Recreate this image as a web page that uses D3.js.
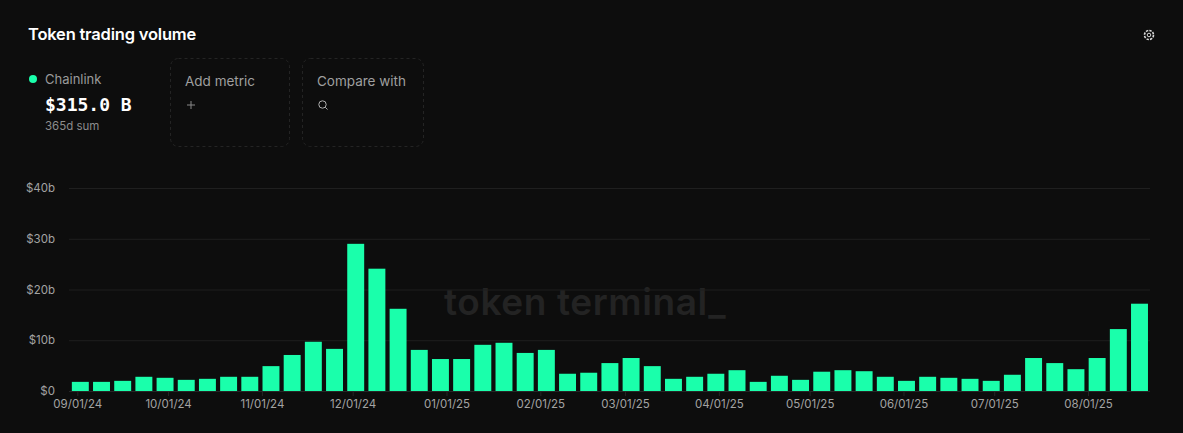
<!DOCTYPE html>
<html>
<head>
<meta charset="utf-8">
<script src="https://cdn.jsdelivr.net/npm/d3@7"></script>
<style>
    html, body { margin: 0; padding: 0; background: #0d0d0d; overflow: hidden; }
    text { font-family: Inter, "Noto Sans", sans-serif; }
</style>
</head>
<body>
<svg id="viz_svg01" width="1183" height="433"></svg>
<script>
// Weekly buckets, each one labelled by its Monday.
const weeks = [
    "2024-09-02", "2024-09-09", "2024-09-16", "2024-09-23", "2024-09-30", "2024-10-07", "2024-10-14",
    "2024-10-21", "2024-10-28", "2024-11-04", "2024-11-11", "2024-11-18", "2024-11-25", "2024-12-02",
    "2024-12-09", "2024-12-16", "2024-12-23", "2024-12-30", "2025-01-06", "2025-01-13", "2025-01-20",
    "2025-01-27", "2025-02-03", "2025-02-10", "2025-02-17", "2025-02-24", "2025-03-03", "2025-03-10",
    "2025-03-17", "2025-03-24", "2025-03-31", "2025-04-07", "2025-04-14", "2025-04-21", "2025-04-28",
    "2025-05-05", "2025-05-12", "2025-05-19", "2025-05-26", "2025-06-02", "2025-06-09", "2025-06-16",
    "2025-06-23", "2025-06-30", "2025-07-07", "2025-07-14", "2025-07-21", "2025-07-28", "2025-08-04",
    "2025-08-11", "2025-08-18"
];
// Volume in $ billions.
const volume = [
    1.8, 1.8, 2.0, 2.8, 2.6, 2.2, 2.4, 2.8, 2.8, 4.9, 7.1, 9.7, 8.3, 29.0,
    24.1, 16.2, 8.1, 6.3, 6.3, 9.1, 9.5, 7.5, 8.1, 3.4, 3.6, 5.5, 6.5, 4.9,
    2.4, 2.8, 3.4, 4.1, 1.8, 3.0, 2.2, 3.8, 4.1, 3.9, 2.8, 2.0, 2.8, 2.6,
    2.4, 2.0, 3.2, 6.5, 5.5, 4.3, 6.5, 12.2, 17.2
];
const xTicks = [
    "2024-09-01", "2024-10-01", "2024-11-01", "2024-12-01", "2025-01-01", "2025-02-01",
    "2025-03-01", "2025-04-01", "2025-05-01", "2025-06-01", "2025-07-01", "2025-08-01"
];
const yTicks = [0, 10, 20, 30, 40];

const width = 1183, height = 433;
const plotLeft = 69, plotRight = 1150, plotTop = 188, plotBottom = 391;
const green = "#1affab";

const parseDay = d3.utcParse("%Y-%m-%d");
const svg = d3.select("#viz_svg01");

svg.append("rect")
    .attr("width", width)
    .attr("height", height)
    .attr("fill", "#0d0d0d");

// The x scale is pinned on the first tick and the last bar's centre.
const x = d3.scaleUtc()
    .domain([parseDay("2024-09-01"), parseDay("2025-08-18")])
    .range([77.3, 1139.5]);

const y = d3.scaleLinear()
    .domain([0, 40])
    .range([plotBottom, plotTop]);

const barWidth = (x(parseDay(weeks[1])) - x(parseDay(weeks[0]))) * 0.8;

// Watermark sits under the gridlines and bars.
svg.append("text")
    .attr("x", 444)
    .attr("y", 315)
    .attr("font-size", 37)
    .attr("font-weight", 600)
    .attr("letter-spacing", 0.6)
    .attr("fill", "#232323")
    .text("token terminal_");

// Gridlines and y labels
const yAxis = d3.axisLeft(y)
    .tickValues(yTicks)
    .tickSize(plotLeft - plotRight)
    .tickPadding(14)
    .tickFormat(d => `$${d}${d === 0 ? "" : "b"}`);

const gY = svg.append("g")
    .attr("transform", `translate(${plotLeft},0)`)
    .call(yAxis);
gY.select(".domain").remove();
gY.selectAll("line").attr("stroke", "#1f1f1f");
gY.selectAll("text")
    .attr("font-size", 11.5)
    .attr("fill", "#a3a3a3");

// Dates with small tick marks
const xAxis = d3.axisBottom(x)
    .tickValues(xTicks.map(parseDay))
    .tickSize(5)
    .tickPadding(4)
    .tickFormat(d3.utcFormat("%m/%d/%y"));

const gX = svg.append("g")
    .attr("transform", `translate(0,${plotBottom})`)
    .call(xAxis);
gX.select(".domain")
    .attr("stroke", "#262626")
    .attr("d", `M${plotLeft},0.5H${plotRight}`);
gX.selectAll("line").attr("stroke", "#262626");
gX.selectAll("text")
    .attr("font-size", 11.5)
    .attr("fill", "#a3a3a3");

// Bars
svg.append("g")
    .selectAll("rect")
    .data(weeks)
    .join("rect")
    .attr("x", d => x(parseDay(d)) - barWidth / 2)
    .attr("y", (d, i) => y(volume[i]))
    .attr("width", barWidth)
    .attr("height", (d, i) => y(0) - y(volume[i]))
    .attr("fill", green);

// Header
svg.append("text")
    .attr("x", 28)
    .attr("y", 40)
    .attr("font-size", 16.5)
    .attr("font-weight", 600)
    .attr("letter-spacing", -0.2)
    .attr("fill", "#ffffff")
    .text("Token trading volume");

// Legend block
svg.append("circle")
    .attr("cx", 33)
    .attr("cy", 79)
    .attr("r", 4)
    .attr("fill", green);

svg.append("text")
    .attr("x", 45)
    .attr("y", 84)
    .attr("font-size", 13)
    .attr("fill", "#9a9a9a")
    .text("Chainlink");

svg.append("text")
    .attr("x", 45)
    .attr("y", 111)
    .attr("font-size", 18)
    .attr("font-weight", 700)
    .attr("style", "font-family: 'DejaVu Sans Mono', monospace")
    .attr("fill", "#ffffff")
    .text("$315.0 B");

svg.append("text")
    .attr("x", 45)
    .attr("y", 130)
    .attr("font-size", 11.5)
    .attr("fill", "#8c8c8c")
    .text("365d sum");

// Dashed placeholder cards
const card = (cx, w, label) => {
    svg.append("rect")
        .attr("x", cx + 0.5)
        .attr("y", 58.5)
        .attr("width", w)
        .attr("height", 88)
        .attr("rx", 8)
        .attr("fill", "none")
        .attr("stroke", "#242424")
        .attr("stroke-dasharray", "3 3");
    svg.append("text")
        .attr("x", cx + 15)
        .attr("y", 86)
        .attr("font-size", 13.5)
        .attr("fill", "#9f9f9f")
        .text(label);
};
card(170, 119, "Add metric");
card(302, 121, "Compare with");

// Plus icon
svg.append("path")
    .attr("d", "M187,105H195M191,101V109")
    .attr("stroke", "#8a8a8a")
    .attr("fill", "none");

// Search icon
svg.append("circle")
    .attr("cx", 322.5)
    .attr("cy", 104.5)
    .attr("r", 3.7)
    .attr("stroke", "#b0b0b0")
    .attr("fill", "none");
svg.append("path")
    .attr("d", "M325.3,107.3L327.5,109.5")
    .attr("stroke", "#b0b0b0")
    .attr("fill", "none");

// Settings gear, drawn as a dashed ring around a small circle
svg.append("circle")
    .attr("cx", 1149)
    .attr("cy", 35)
    .attr("r", 4.5)
    .attr("stroke", "#d8d8d8")
    .attr("stroke-width", 1.6)
    .attr("stroke-dasharray", "2.4 1.1")
    .attr("fill", "none");
svg.append("circle")
    .attr("cx", 1149)
    .attr("cy", 35)
    .attr("r", 1.8)
    .attr("stroke", "#d8d8d8")
    .attr("fill", "none");
</script>
</body>
</html>
